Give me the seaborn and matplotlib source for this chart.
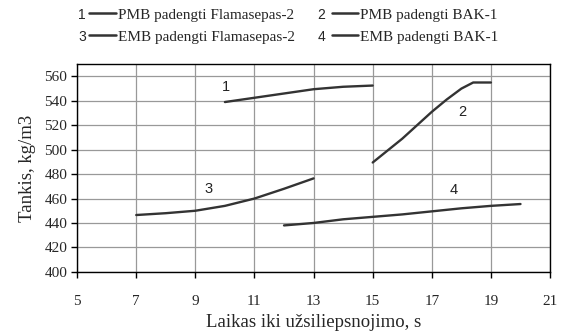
import pandas as pd
import numpy as np
import seaborn as sns
import matplotlib.pyplot as plt
from matplotlib.lines import Line2D

xlab = "Laikas iki užsiliepsnojimo, s"
ylab = "Tankis, kg/m3"

names = ["PMB padengti Flamasepas-2", "PMB padengti BAK-1",
         "EMB padengti Flamasepas-2", "EMB padengti BAK-1"]

x1 = [10, 11, 12, 13, 14, 15]
y1 = [539, 542.5, 546, 549.5, 551.5, 552.5]
x2 = [15, 16, 17, 17.5, 18, 18.4, 19]
y2 = [489.5, 509, 531, 541, 550, 555, 555]
x3 = [7, 8, 9, 10, 11, 12, 13]
y3 = [446.5, 448, 450, 454, 460, 468, 476.5]
x4 = [12, 13, 14, 15, 16, 17, 18, 19, 20]
y4 = [438, 440, 443, 445, 447, 449.5, 452, 454, 455.5]

xs = [x1, x2, x3, x4]
ys = [y1, y2, y3, y4]
df = pd.concat([pd.DataFrame({"x": x, "y": y, "n": str(i + 1)})
                for i, (x, y) in enumerate(zip(xs, ys))])

sns.set_style("white")
plt.rcParams["font.family"] = ["Liberation Serif", "DejaVu Serif"]
lc = "#333333"

fig = plt.figure(figsize=(5.63, 3.36), dpi=100)
ax = fig.add_axes([0.137, 0.191, 0.840, 0.618])

sns.lineplot(ax=ax, data=df, x="x", y="y", hue="n", units="n", estimator=None,
             sort=False, palette=[lc] * 4, linewidth=1.7, legend=False)

ax.set_xlim(5, 21)
ax.set_ylim(400, 570)
ax.set_xticks(np.arange(5, 22, 2))
ax.set_yticks(np.arange(400, 561, 20))
ax.grid(True, color="#999999", linewidth=0.9)
for s in ax.spines.values():
    s.set_color("black")
    s.set_linewidth(1.0)
ax.tick_params(direction="out", length=4, width=1, color="black",
               labelsize=11, left=True, bottom=True)
ax.tick_params(axis="x", pad=13)
ax.tick_params(axis="y", pad=3)
ax.set_xlabel(xlab, fontsize=13.5, labelpad=4)
ax.set_ylabel(ylab, fontsize=13.5, labelpad=6)

# curve numbers
num_pos = [(10.02, 551.3), (18.03, 530.8), (9.46, 468), (17.74, 467)]
for i, (px, py) in enumerate(num_pos):
    ax.text(px, py, str(i + 1), fontsize=10.5, family="Liberation Sans",
            ha="center", va="center", color="#222222")

# legend on top
cols = [(82 / 563, 89 / 563, 116 / 563, 118 / 563),
        (321 / 563, 332 / 563, 358 / 563, 360 / 563)]
rows = [1 - 15 / 336, 1 - 37 / 336]
for i, name in enumerate(names):
    c = cols[i % 2]
    r = rows[i // 2]
    fig.text(c[0], r, str(i + 1), fontsize=10, family="Liberation Sans",
             ha="center", va="center")
    fig.add_artist(Line2D([c[1], c[2]], [r + 0.006, r + 0.006], color=lc,
                          linewidth=1.8, transform=fig.transFigure))
    fig.text(c[3], r, name, fontsize=11, ha="left", va="center")

fig.savefig("out.png", dpi=100)
